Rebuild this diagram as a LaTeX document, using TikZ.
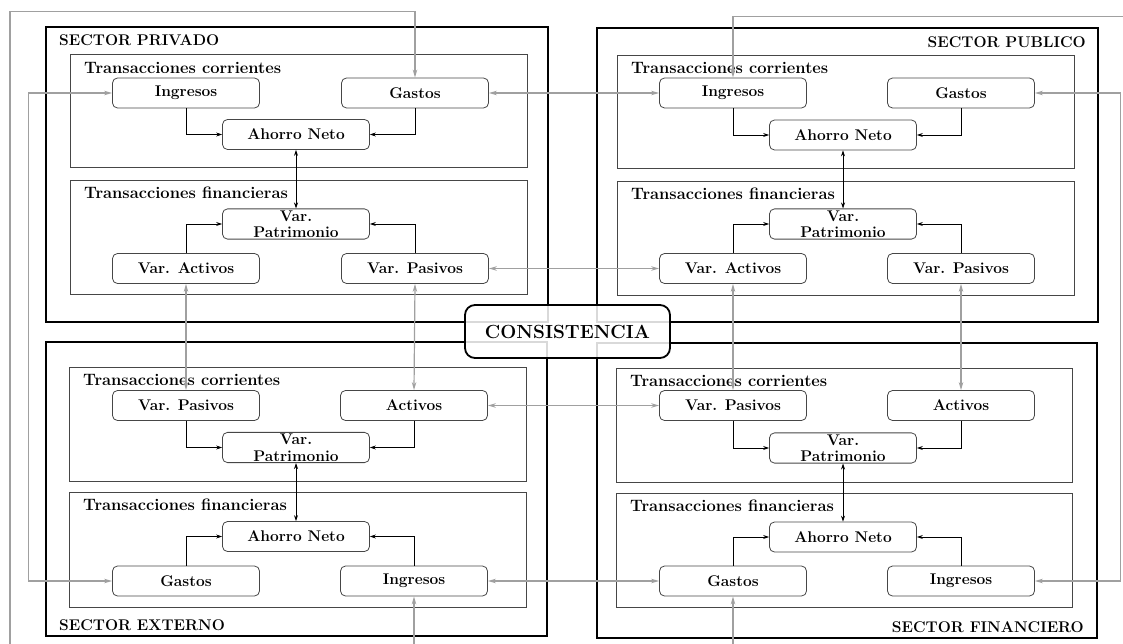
\RequirePackage{fix-cm}
\documentclass[tikz,border=0pt]{standalone}
\usetikzlibrary{arrows.meta}

\definecolor{lineaGris}{RGB}{160,160,160}
\definecolor{bordeGris}{RGB}{70,70,70}

\tikzset{
  sectorBox/.style={draw=black, line width=1.7pt},
  bloqueBox/.style={draw=bordeGris, line width=0.9pt},
  cuenta/.style={draw=bordeGris, line width=0.8pt, rounded corners=5pt,
    minimum width=147pt, minimum height=30pt, inner xsep=1pt, inner ysep=1.5pt,
    align=center, font=\fontsize{15.5}{16.5}\selectfont\bfseries},
  titulo/.style={inner sep=0pt, font=\fontsize{15.5}{16}\selectfont\bfseries},
  subtitulo/.style={inner sep=0pt, anchor=west, font=\fontsize{16.5}{17}\selectfont\bfseries},
  flujo/.style={draw=black, line width=0.7pt, -{Stealth[length=6pt,width=4pt]}},
  flujoDoble/.style={draw=black, line width=0.7pt,
    {Stealth[length=6pt,width=4pt]}-{Stealth[length=6pt,width=4pt]}},
  enlace/.style={draw=lineaGris, line width=1.2pt,
    {Stealth[length=8pt,width=4.5pt]}-{Stealth[length=8pt,width=4.5pt]}},
  consistencia/.style={draw=black, line width=1.8pt, rounded corners=10pt,
    fill=white, fill opacity=0.85, text opacity=1,
    minimum width=205pt, minimum height=53pt,
    font=\fontsize{19}{19}\selectfont\bfseries}
}

\begin{document}
\begin{tikzpicture}[x=1pt,y=-1pt]
\useasboundingbox (0,0) rectangle (1123,644);
\clip (0,0) rectangle (1123,644);

% sectores
\draw[sectorBox] (46,27) rectangle (548,322);
\draw[sectorBox] (597,28) rectangle (1098,322);
\draw[sectorBox] (46,342) rectangle (547,636);
\draw[sectorBox] (597,343) rectangle (1097,638);
\node[titulo, anchor=west] (tPriv) at (59,40) {SECTOR PRIVADO};
\node[titulo, anchor=east] (tPub) at (1086,42) {SECTOR PUBLICO};
\node[titulo, anchor=west] (tExt) at (59,625) {SECTOR EXTERNO};
\node[titulo, anchor=east] (tFin) at (1084,627) {SECTOR FINANCIERO};

% bloques de transacciones
\draw[bloqueBox] (70,54) rectangle (527,167);
\draw[bloqueBox] (70,180) rectangle (527,294);
\draw[bloqueBox] (617,55) rectangle (1074,168);
\draw[bloqueBox] (617,181) rectangle (1074,295);
\draw[bloqueBox] (69,367) rectangle (526,481);
\draw[bloqueBox] (69,492) rectangle (526,607);
\draw[bloqueBox] (616,368) rectangle (1072,482);
\draw[bloqueBox] (616,493) rectangle (1072,607);
\node[subtitulo] (cPriv) at (84,68) {Transacciones corrientes};
\node[subtitulo] (fPriv) at (84,193) {Transacciones financieras};
\node[subtitulo] (cPub) at (631,68) {Transacciones corrientes};
\node[subtitulo] (fPub) at (631,194) {Transacciones financieras};
\node[subtitulo] (cExt) at (83,380) {Transacciones corrientes};
\node[subtitulo] (fExt) at (83,505) {Transacciones financieras};
\node[subtitulo] (cFin) at (630,381) {Transacciones corrientes};
\node[subtitulo] (fFin) at (630,506) {Transacciones financieras};

% sector privado
\node[cuenta] (ingPriv) at (186,93) {Ingresos};
\node[cuenta] (gasPriv) at (415,93) {Gastos};
\node[cuenta] (ahoPriv) at (296,134.5) {Ahorro Neto};
\node[cuenta] (patPriv) at (296,224) {Var.\\Patrimonio};
\node[cuenta] (actPriv) at (186,268.5) {Var. Activos};
\node[cuenta] (pasPriv) at (415,268.5) {Var. Pasivos};

% sector publico
\node[cuenta] (ingPub) at (733,93) {Ingresos};
\node[cuenta] (gasPub) at (961,93) {Gastos};
\node[cuenta] (ahoPub) at (843,135) {Ahorro Neto};
\node[cuenta] (patPub) at (843,224) {Var.\\Patrimonio};
\node[cuenta] (actPub) at (733,268.5) {Var. Activos};
\node[cuenta] (pasPub) at (961,268.5) {Var. Pasivos};

% sector externo
\node[cuenta] (pasExt) at (186,405.5) {Var. Pasivos};
\node[cuenta] (actExt) at (414,405.5) {Activos};
\node[cuenta] (patExt) at (296,447.5) {Var.\\Patrimonio};
\node[cuenta] (ahoExt) at (296,536.5) {Ahorro Neto};
\node[cuenta] (gasExt) at (186,581) {Gastos};
\node[cuenta] (ingExt) at (414,581) {Ingresos};

% sector financiero
\node[cuenta] (pasFin) at (733,405.5) {Var. Pasivos};
\node[cuenta] (actFin) at (961,405.5) {Activos};
\node[cuenta] (patFin) at (843,448) {Var.\\Patrimonio};
\node[cuenta] (ahoFin) at (843,537) {Ahorro Neto};
\node[cuenta] (gasFin) at (733,581) {Gastos};
\node[cuenta] (ingFin) at (961,581) {Ingresos};

% flujos internos
\draw[flujo] (ingPriv.south) |- (ahoPriv.west);
\draw[flujo] (gasPriv.south) |- (ahoPriv.east);
\draw[flujo] (actPriv.north) |- (patPriv.west);
\draw[flujo] (pasPriv.north) |- (patPriv.east);
\draw[flujoDoble] (ahoPriv.south) -- (patPriv.north);

\draw[flujo] (ingPub.south) |- (ahoPub.west);
\draw[flujo] (gasPub.south) |- (ahoPub.east);
\draw[flujo] (actPub.north) |- (patPub.west);
\draw[flujo] (pasPub.north) |- (patPub.east);
\draw[flujoDoble] (ahoPub.south) -- (patPub.north);

\draw[flujo] (pasExt.south) |- (patExt.west);
\draw[flujo] (actExt.south) |- (patExt.east);
\draw[flujo] (gasExt.north) |- (ahoExt.west);
\draw[flujo] (ingExt.north) |- (ahoExt.east);
\draw[flujoDoble] (patExt.south) -- (ahoExt.north);

\draw[flujo] (pasFin.south) |- (patFin.west);
\draw[flujo] (actFin.south) |- (patFin.east);
\draw[flujo] (gasFin.north) |- (ahoFin.west);
\draw[flujo] (ingFin.north) |- (ahoFin.east);
\draw[flujoDoble] (patFin.south) -- (ahoFin.north);

% enlaces entre sectores
\draw[enlace] (gasPriv.east) -- (ingPub.west);
\draw[enlace] (pasPriv.east) -- (actPub.west);
\draw[enlace] (actExt.east) -- (pasFin.west);
\draw[enlace] (ingExt.east) -- (gasFin.west);
\draw[enlace] (actPriv.south) -- (pasExt.north);
\draw[enlace] (pasPriv.south) -- (actExt.north);
\draw[enlace] (actPub.south) -- (pasFin.north);
\draw[enlace] (pasPub.south) -- (actFin.north);
\draw[enlace] (ingPriv.west) -- ++(-83.5,0) |- (gasExt.west);
\draw[enlace] (gasPub.east) -- ++(85.5,0) |- (ingFin.east);
\draw[enlace] (gasPriv.north) -- ++(0,-66) -| (10,660) -| (ingExt.south);
\draw[enlace] (ingPub.north) -- ++(0,-61) -| (1140,660) -| (gasFin.south);

\node[consistencia] (cons) at (567.5,331.5) {CONSISTENCIA};
\end{tikzpicture}
\end{document}
